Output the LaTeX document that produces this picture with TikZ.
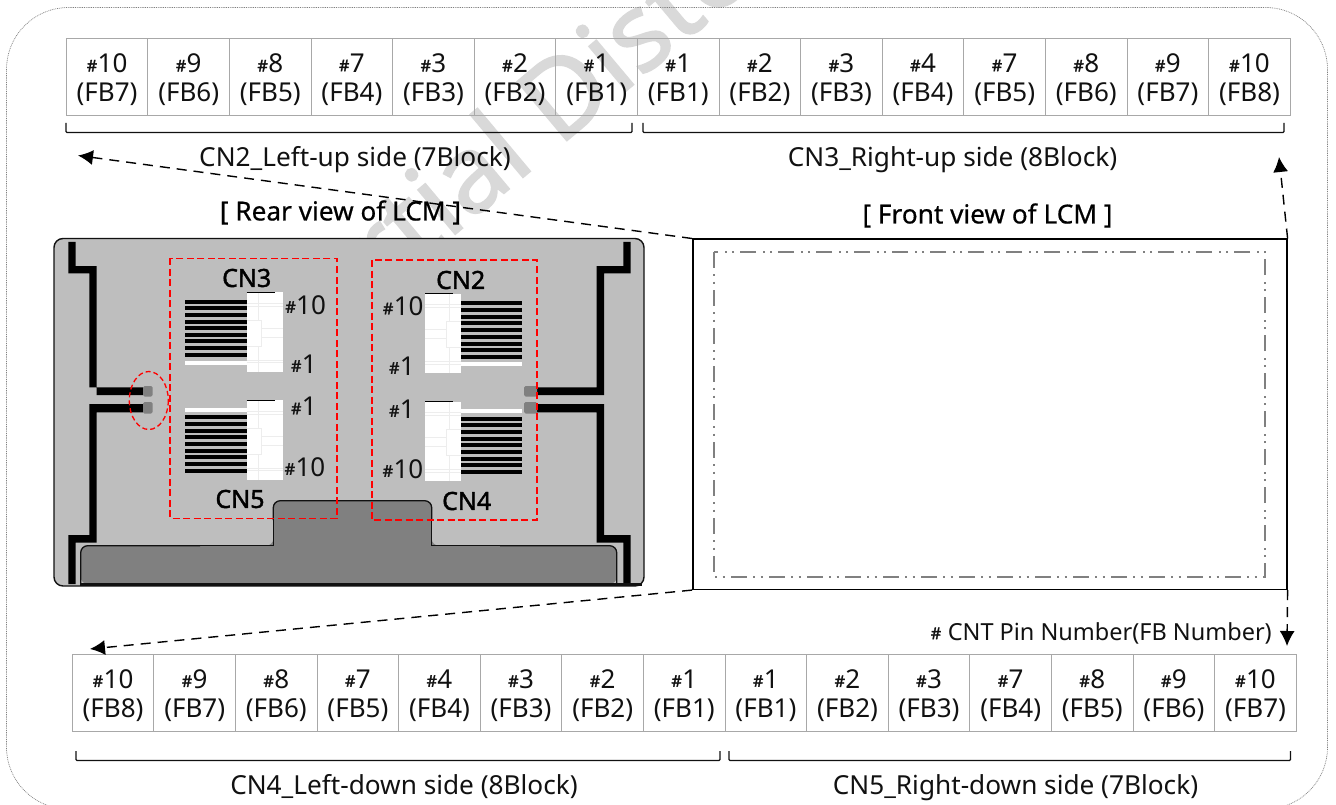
\documentclass[tikz,border=0pt]{standalone}
\usepackage{fontspec}
\setmainfont{Noto Sans}
\newfontfamily\heavyfont[FakeBold=2.2]{Noto Sans}
\newfontfamily\semifont[FakeBold=0.6]{Noto Sans}
\newfontfamily\cnfont[FakeBold=1.6]{Noto Sans}
\newfontfamily\wmfont[FakeBold=1.5]{Noto Sans}
\usetikzlibrary{arrows.meta}
\definecolor{cellline}{HTML}{A8A8A8}
\definecolor{panel}{HTML}{BEBEBE}
\definecolor{darkpanel}{HTML}{808080}
\definecolor{wmark}{HTML}{D9D9D9}
\definecolor{inkblack}{HTML}{111111}
\newcommand{\hh}{\raisebox{1.5pt}{\fontsize{16}{16}\heavyfont\#}\hspace{0.5pt}}
\newcommand{\cellrow}[4]{%
  \foreach \lab [count=\i from 0] in {#4} {
    \pgfmathsetmacro{\cx}{#1+81.6*\i}
    \pgfmathsetmacro{\ty}{#2+2.5}
    \node[fbcell] (#3\i) at (\cx,#2) {};
    \node[fblabel] (#3l\i) at (\cx,\ty) {\lab};
  }}
\newcommand{\fb}[2]{\hh#1\\(FB#2)}
\newcommand{\connbody}[3]{% x, y, xscale
  \fill[white] (#1,#2) rectangle ++(36,79.5);
  \begin{scope}[shift={(#1,#2)},line width=0.8pt,draw=black!7]
    \ifnum#3=1\relax\else\begin{scope}[shift={(36,0)},xscale=-1]\fi
    \draw (0,11) -- (36,11) (0,14) -- (36,14);
    \draw (0,68) -- (36,68) (0,70.5) -- (36,70.5);
    \draw (12,0) -- (12,28) (12,54) -- (12,79.5);
    \draw (15,28) -- (15,54);
    \draw (0,28) -- (15,28) (0,54) -- (15,54);
    \draw (15,36) -- (36,36) (15,45) -- (36,45);
    \ifnum#3=1\relax\else\end{scope}\fi
  \end{scope}
  \draw[black,line width=0.7pt] (#1,#2) -- ++(28,0);
}
\tikzset{
  x=1pt,y=-1pt,
  fbcell/.style={draw=cellline,line width=1pt,minimum width=81.6pt,minimum height=77pt,inner sep=0pt,anchor=center},
  fblabel/.style={inner sep=0pt,align=center,font=\fontsize{26}{29}\selectfont,text=inkblack},
  brace/.style={draw=inkblack,line width=1.3pt},
  captext/.style={font=\fontsize{26.2}{29}\selectfont,inner sep=0pt,text=inkblack},
  viewtitle/.style={font=\fontsize{26.2}{30}\semifont,inner sep=0pt,text=black},
  cnlabel/.style={font=\fontsize{25}{26}\cnfont,inner sep=0pt},
  pinlabel/.style={font=\fontsize{26}{26}\selectfont,inner sep=0pt,text=inkblack},
  bus/.style={fill=black},
  pad/.style={fill=darkpanel,rounded corners=1.5pt},
  reddash/.style={draw=red,line width=1.6pt,dash pattern=on 7pt off 3.5pt},
  flow/.style={draw=black,line width=1.4pt,dash pattern=on 10pt off 7pt,-{Latex[length=15pt,width=15pt]}},
}
\begin{document}
\begin{tikzpicture}
\useasboundingbox (0,0) rectangle (1336,805);
\begin{scope}
\clip (0,0) rectangle (1336,805);
% watermark
\node[rotate=40,text=wmark,font=\fontsize{108}{108}\wmfont,inner sep=0pt,anchor=base west] (wm) at (384,294) {rtial Diste};
% outer frame
\draw[black!50,line width=0.7pt,dash pattern=on 0.9pt off 0.9pt,rounded corners=62pt] (6.5,7.5) rectangle (1327.5,809);
\end{scope}
% top cells
\cellrow{107.1}{77.5}{t}{{\fb{10}{7}},{\fb{9}{6}},{\fb{8}{5}},{\fb{7}{4}},{\fb{3}{3}},{\fb{2}{2}},{\fb{1}{1}},{\fb{1}{1}},{\fb{2}{2}},{\fb{3}{3}},{\fb{4}{4}},{\fb{7}{5}},{\fb{8}{6}},{\fb{9}{7}},{\fb{10}{8}}}
% bottom cells
\cellrow{113.1}{693}{b}{{\fb{10}{8}},{\fb{9}{7}},{\fb{8}{6}},{\fb{7}{5}},{\fb{4}{4}},{\fb{3}{3}},{\fb{2}{2}},{\fb{1}{1}},{\fb{1}{1}},{\fb{2}{2}},{\fb{3}{3}},{\fb{7}{4}},{\fb{8}{5}},{\fb{9}{6}},{\fb{10}{7}}}
% brackets
\draw[brace,rounded corners=1pt] (66,123) -- (66,132.5) -- (632,132.5) -- (632,123);
\draw[brace,rounded corners=1pt] (643,123) -- (643,132.5) -- (1284,132.5) -- (1284,123);
\draw[brace,rounded corners=1pt] (76,751) -- (76,760.5) -- (720,760.5) -- (720,751);
\draw[brace,rounded corners=1pt] (729,751) -- (729,760.5) -- (1290.5,760.5) -- (1290.5,751);
% captions
\node[captext] (c2) at (355,159.5) {CN2\_Left-up side (7Block)};
\node[captext] (c3) at (952.5,159.5) {CN3\_Right-up side (8Block)};
\node[captext] (c4) at (404,786.5) {CN4\_Left-down side (8Block)};
\node[captext] (c5) at (1015.5,787.5) {CN5\_Right-down side (7Block)};
\node[font=\fontsize{23.5}{26}\selectfont,inner sep=0pt,anchor=east,text=inkblack] (legend) at (1272,633.5) {\hh\ CNT Pin Number(FB Number)};
\node[viewtitle] (rear) at (340.5,212.5) {[ Rear view of LCM ]};
\node[viewtitle] (front) at (987.5,215.5) {[ Front view of LCM ]};
% front panel
\node[draw=black,line width=1.6pt,minimum width=594pt,minimum height=350pt,inner sep=0pt,anchor=north west] (fp) at (692,238.5) {};
\draw[black!50,line width=1.4pt,dash pattern=on 16pt off 6pt on 2pt off 5.5pt on 2pt off 6.5pt] (714,252) rectangle (1265,577);
% rear panel
\draw[fill=panel,draw=inkblack,line width=1.4pt,rounded corners=9pt] (54,238.5) rectangle (644,586);
\fill[bus] (68.3,242) -- (75.7,242) -- (75.7,266) -- (96.7,266) -- (96.7,395) -- (143,395) -- (143,387.3) -- (89.3,387.3) -- (89.3,273.3) -- (68.3,273.3) -- cycle;
\fill[bus] (143,404) -- (89.3,404) -- (89.3,535) -- (68.3,535) -- (68.3,584) -- (75.7,584) -- (75.7,542.7) -- (96.7,542.7) -- (96.7,412.3) -- (143,412.3) -- cycle;
\fill[bus] (630.7,242) -- (623.3,242) -- (623.3,266) -- (596.7,266) -- (596.7,387.3) -- (535,387.3) -- (535,395) -- (604,395) -- (604,273.3) -- (630.7,273.3) -- cycle;
\fill[bus] (535,404) -- (604,404) -- (604,535) -- (630.7,535) -- (630.7,584) -- (623.3,584) -- (623.3,542.7) -- (596.7,542.7) -- (596.7,412.3) -- (535,412.3) -- cycle;
\fill[pad] (143,386) rectangle (152.7,396.5);
\fill[pad] (143,402) rectangle (152.7,413.5);
\fill[pad] (524,386) rectangle (537,396.5);
\fill[pad] (524,402) rectangle (537,413.5);
\fill[darkpanel,rounded corners=7pt] (80.7,584) -- (80.7,545.7) -- (273.3,545.7) -- (273.3,500.7) -- (431.7,500.7) -- (431.7,545.7) -- (616.7,545.7) -- (616.7,584) -- cycle;
\draw[inkblack,line width=1.3pt,rounded corners=7pt] (80.7,584) -- (80.7,545.7) -- (200,545.7);
\draw[inkblack,line width=1.3pt] (200,545.7) -- (273.3,545.7) -- (273.3,520);
\draw[inkblack,line width=1.3pt,rounded corners=7pt] (273.3,520) -- (273.3,500.7) -- (431.7,500.7) -- (431.7,520);
\draw[inkblack,line width=1.3pt] (431.7,520) -- (431.7,545.7) -- (500,545.7);
\draw[inkblack,line width=1.3pt,rounded corners=7pt] (500,545.7) -- (616.7,545.7) -- (616.7,584);
\draw[inkblack,line width=3pt] (80,584.5) -- (642,584.5);
% connector stripes CN3
\foreach \k in {0,...,8} {\fill[black] (185,{299.8+\k*6.6}) rectangle (246.7,{303.8+\k*6.6});}
\fill[white] (185,360.7) rectangle (246.7,364.7);
\connbody{246.7}{292.3}{1}
% CN5
\fill[white] (185,408) rectangle (246.7,412);
\foreach \k in {0,...,8} {\fill[black] (185,{415.3+\k*6.65}) rectangle (246.7,{419.3+\k*6.65});}
\connbody{246.7}{400}{1}
% CN2
\foreach \k in {0,...,8} {\fill[black] (460.7,{301.3+\k*6.7}) rectangle (522,{305.3+\k*6.7});}
\fill[white] (460.7,361.7) rectangle (522,365.7);
\connbody{425.3}{293.5}{2}
% CN4
\fill[white] (460.7,409.3) rectangle (522,413.3);
\foreach \k in {0,...,8} {\fill[black] (460.7,{416.7+\k*6.65}) rectangle (522,{420.7+\k*6.65});}
\connbody{425.3}{401.5}{2}
% connector labels
\node[cnlabel] (cn3) at (246.7,278) {CN3};
\node[cnlabel] (cn2) at (460.7,280) {CN2};
\node[cnlabel] (cn5) at (240,499) {CN5};
\node[cnlabel] (cn4) at (466.7,501) {CN4};
\node[pinlabel] (p3a) at (305.7,305) {\hh10};
\node[pinlabel] (p3b) at (304,364) {\hh1};
\node[pinlabel] (p5a) at (304,406.5) {\hh1};
\node[pinlabel] (p5b) at (305,467) {\hh10};
\node[pinlabel] (p2a) at (403.3,306.5) {\hh10};
\node[pinlabel] (p2b) at (402,366) {\hh1};
\node[pinlabel] (p4a) at (402,409) {\hh1};
\node[pinlabel] (p4b) at (403,469) {\hh10};
% red outlines
\draw[reddash] (170,258.3) rectangle (336.7,518.3);
\draw[reddash] (371.7,260) rectangle (536.7,520);
\draw[reddash,line width=1.3pt,dash pattern=on 5pt off 3pt] (148.8,400.5) ellipse [x radius=19.5,y radius=29];
% flow arrows
\coordinate (tlend) at (78,155.5);
\coordinate (trend) at (1279,157);
\coordinate (blend) at (90,649);
\coordinate (brend) at (1287,646);
\draw[flow] (fp.north west) -- (tlend);
\draw[flow] (fp.north east) -- (trend);
\draw[flow] (fp.south west) -- (blend);
\draw[flow] (fp.south east) -- (brend);
\end{tikzpicture}
\end{document}
